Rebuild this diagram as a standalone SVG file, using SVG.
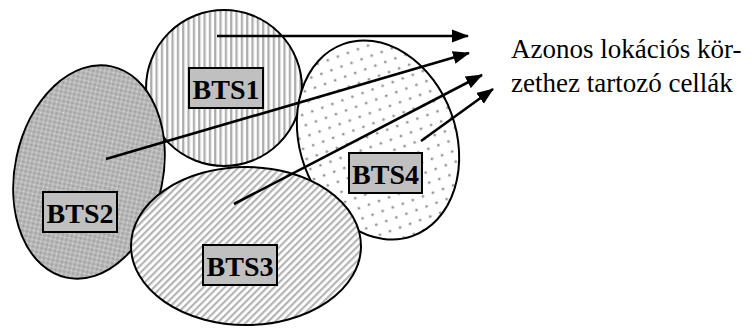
<svg xmlns="http://www.w3.org/2000/svg" width="752" height="332" viewBox="0 0 752 332">
<style>
.cell{stroke:#000;stroke-width:2}
.box{fill:#c0c0c0;stroke:#000;stroke-width:2}
.lbl{font-family:"Liberation Serif","Times New Roman",serif;font-weight:bold;font-size:28px;text-anchor:middle;fill:#000}
.note{font-family:"Liberation Serif","Times New Roman",serif;font-size:27px;fill:#000}
.arr{stroke:#000;stroke-width:2.6;fill:none;marker-end:url(#ah)}
</style>
<defs>
<pattern id="pv" width="5.33" height="10" patternUnits="userSpaceOnUse">
<rect width="5.33" height="10" fill="#fff"/>
<rect x="1" width="2" height="10" fill="#a8a8a8"/>
<rect x="3" width="0.8" height="10" fill="#d8d8d8"/>
</pattern>
<pattern id="pc" width="4.5" height="4.5" patternUnits="userSpaceOnUse">
<rect width="4.5" height="4.5" fill="#a4a4a4"/>
<rect x="1.25" y="0" width="2" height="4.5" fill="#bdbdbd"/>
<rect x="0" y="1.25" width="4.5" height="2" fill="#bdbdbd"/>
<rect x="1.75" y="1.75" width="1" height="1" fill="#e0e0e0"/>
</pattern>
<pattern id="pd" width="5" height="10" patternUnits="userSpaceOnUse" patternTransform="rotate(45)">
<rect width="5" height="10" fill="#fff"/>
<rect x="1" width="2.2" height="10" fill="#b4b4b4"/>
</pattern>
<pattern id="pp" width="10.7" height="10.7" patternUnits="userSpaceOnUse">
<rect width="10.7" height="10.7" fill="#fff"/>
<circle cx="5" cy="5" r="1.3" fill="#969696"/>
</pattern>
<marker id="ah" markerUnits="userSpaceOnUse" markerWidth="17" markerHeight="14" viewBox="0 0 17 14" refX="16" refY="7" orient="auto">
<path d="M0,0.5 L17,7 L0,13.5 z" fill="#000"/>
</marker>
</defs>

<g id="bts1">
<circle class="cell" cx="224" cy="88" r="78" fill="url(#pv)"/>
</g>
<g id="bts4">
<ellipse class="cell" cx="378" cy="140" rx="78" ry="102" transform="rotate(-20 378 140)" fill="url(#pp)"/>
</g>
<g id="bts2">
<ellipse class="cell" cx="89" cy="172" rx="74" ry="108" transform="rotate(12 89 172)" fill="url(#pc)"/>
</g>
<g id="bts3">
<ellipse class="cell" cx="246" cy="246" rx="115" ry="79" fill="url(#pd)"/>
</g>

<g id="labels">
<g id="label-bts1"><rect class="box" x="189" y="68" width="74" height="40"/><text class="lbl" x="226" y="99">BTS1</text></g>
<g id="label-bts2"><rect class="box" x="43" y="192" width="74" height="40"/><text class="lbl" x="80" y="223">BTS2</text></g>
<g id="label-bts3"><rect class="box" x="203" y="245" width="74" height="40"/><text class="lbl" x="240" y="276">BTS3</text></g>
<g id="label-bts4"><rect class="box" x="349" y="153" width="73" height="40"/><text class="lbl" x="385.5" y="184">BTS4</text></g>
</g>

<g id="connectors">
<line class="arr" x1="217" y1="36" x2="468" y2="36"/>
<line class="arr" x1="106" y1="159" x2="469" y2="53"/>
<line class="arr" x1="234" y1="204" x2="482" y2="75"/>
<line class="arr" x1="421" y1="141" x2="493" y2="89"/>
</g>

<g id="note">
<text class="note" x="511" y="58">Azonos lokációs kör-</text>
<text class="note" x="511" y="92">zethez tartozó cellák</text>
</g>
</svg>
